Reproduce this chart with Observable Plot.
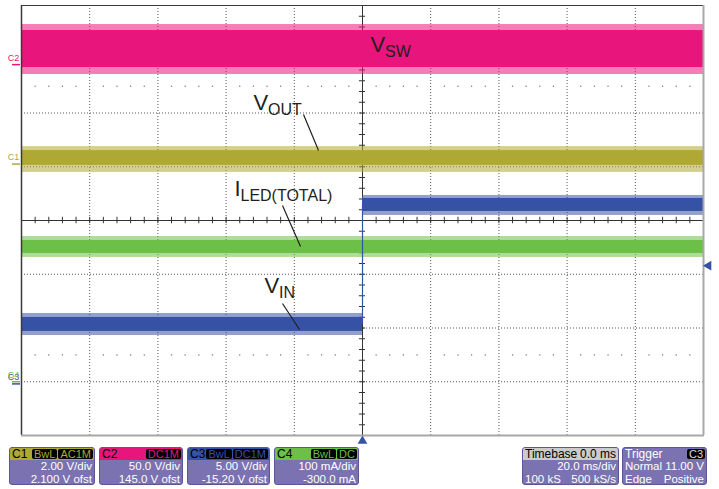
<!DOCTYPE html>
<html><head><meta charset="utf-8">
<script src="https://cdn.jsdelivr.net/npm/d3@7"></script>
<script src="https://cdn.jsdelivr.net/npm/@observablehq/plot@0.6"></script>
<style>
html,body{margin:0;padding:0;background:#fff;}
body{width:719px;height:489px;position:relative;overflow:hidden;font-family:"Liberation Sans",Arial,sans-serif;}
#chart{position:absolute;left:0;top:0;}
.panel{position:absolute;top:447px;height:38px;box-sizing:border-box;border:1px solid #5d5596;border-radius:3px;background:#7b72b2;overflow:hidden;color:#fff;}
.hdr{position:relative;height:12px;font-size:12px;line-height:12px;color:#000;}
.hdr .l{position:absolute;left:2px;top:0;}
.hdr .r{position:absolute;right:1px;top:1px;display:flex;gap:1px;}
.hdr .rt{position:absolute;right:2px;top:0;}
.badge{background:#000;border-radius:2px;font-size:11px;line-height:10px;height:10px;padding:0 2px;}
.row{position:relative;height:12.5px;font-size:11.5px;line-height:12.5px;}
.row .l{position:absolute;left:2px;top:0;}
.row .r{position:absolute;right:2px;top:0;}
</style>
</head>
<body>
<div id="chart"></div>
<div id="panels"></div>
<script>
// ---- Acquisition settings ----
const timeRange = [-100, 100];          // ms, 20 ms/div x 10 div, trigger at 0
const divRange = [-4, 4];               // vertical divisions
const msPerDiv = 20;

// ---- Channels ----
const channels = ["C1", "C2", "C3", "C4"];
const chColors = ["#b0a834", "#e8157c", "#3652a4", "#6cbf47"];
const unitsPerDiv = [2, 50, 5, 100];
const offsets = [2.1, 145, -15.2, -300];
const perDivText = ["2.00 V/div", "50.0 V/div", "5.00 V/div", "100 mA/div"];
const offsetText = ["2.100 V ofst", "145.0 V ofst", "-15.20 V ofst", "-300.0 mA"];
const badgeText = [["BwL", "AC1M"], ["DC1M"], ["BwL", "DC1M"], ["BwL", "DC"]];

// ---- Traces (segments, in channel units) ----
const traceName = ["VSW", "VOUT", "ILED", "VIN", "VIN"];
const traceChannel = [1, 0, 3, 2, 2];
const segStart = [-100, -100, -100, -100, 0];
const segEnd = [100, 100, 100, 0, 100];
const coreLow = [-2.7, -0.05, 238.6, 4.88, 16.04];
const coreHigh = [31.7, 0.5, 262.8, 6.18, 17.25];
const peakLow = [-9.2, -0.31, 231.2, 4.5, 15.67];
const peakHigh = [37.3, 0.65, 270.2, 6.55, 17.53];

// ---- Trigger ----
const triggerChannel = 2;
const triggerLevel = 11.0;
const triggerTime = 0;

// ---- Annotations (time ms, divisions) ----
const labelMain = ["V", "V", "I", "V"];
const labelSub = ["SW", "OUT", "LED(TOTAL)", "IN"];
const labelT = [2.35, -31.97, -37.54, -28.74];
const labelDiv = [3.144, 2.047, 0.465, -1.358];
const leaderT1 = [-17.3, -23.46, -23.46];
const leaderD1 = [1.972, 0.279, -1.544];
const leaderT2 = [-12.9, -18.18, -18.48];
const leaderD2 = [1.302, -0.484, -2.028];

// ---- Status panels ----
const timebaseText = ["Timebase", "0.0 ms", "20.0 ms/div", "100 kS", "500 kS/s"];
const triggerText = ["Trigger", "C3", "Normal", "11.00 V", "Edge", "Positive"];

// ---------------------------------------------------------------
const toDiv = (ch, v) => (v + offsets[ch]) / unitsPerDiv[ch];
const traces = traceName.map((n, i) => {
  const ch = traceChannel[i];
  return {
    name: n, color: chColors[ch], t0: segStart[i], t1: segEnd[i],
    lo: toDiv(ch, coreLow[i]), hi: toDiv(ch, coreHigh[i]),
    plo: toDiv(ch, peakLow[i]), phi: toDiv(ch, peakHigh[i])
  };
});
const vinA = traces[3], vinB = traces[4];
const stepLine = [{t: triggerTime, y1: (vinA.lo + vinA.hi) / 2, y2: (vinB.lo + vinB.hi) / 2}];

const hGrid = d3.range(-3, 4).filter(d => d !== 0);
const vGrid = d3.range(-80, 100, 20).filter(d => d !== 0);
const minorT = d3.range(-100, 100.001, msPerDiv / 5);
const minorD = d3.range(-4, 4.001, 0.2);
const dotRows = [];
for (const y of [2.5, -2.5]) for (const t of minorT) if (Math.abs(t % 20) > 1e-6 && Math.abs(t) < 100) dotRows.push({t, y});

const pxMs = msPerDiv / 68.2;
const markers = [2, 3, 1, 0].map(ch => ({ch: channels[ch], color: chColors[ch], g: toDiv(ch, 0)}));

const labels = labelMain.map((m, i) => ({main: m, sub: labelSub[i], t: labelT[i], y: labelDiv[i], dx: m === "I" ? 6 : 14.5}));
const leaders = leaderT1.map((t, i) => ({t1: t, y1: leaderD1[i], t2: leaderT2[i], y2: leaderD2[i]}));
const font = "Liberation Sans, Arial, sans-serif";

const chart = Plot.plot({
  width: 719, height: 445,
  marginLeft: 21, marginRight: 16, marginTop: 5, marginBottom: 10,
  x: {domain: timeRange, axis: null},
  y: {domain: divRange, axis: null},
  color: {type: "identity"},
  style: {background: "transparent", overflow: "visible"},
  marks: [
    Plot.ruleY(hGrid, {y: d => d, x1: timeRange[0], x2: timeRange[1], stroke: "#555", strokeDasharray: "1,2"}),
    Plot.ruleX(vGrid, {x: d => d, y1: divRange[0], y2: divRange[1], stroke: "#555", strokeDasharray: "1,2"}),
    Plot.dot(dotRows, {x: "t", y: "y", r: 0.7, fill: "#666", stroke: null}),
    Plot.ruleY([0], {x1: timeRange[0], x2: timeRange[1], stroke: "#333"}),
    Plot.ruleX([0], {y1: divRange[0], y2: divRange[1], stroke: "#333"}),
    Plot.ruleX(minorT, {x: d => d, y1: -0.06, y2: 0.06, stroke: "#333"}),
    Plot.ruleY(minorD, {y: d => d, x1: -0.9, x2: 0.9, stroke: "#333"}),
    Plot.rect(traces, {x1: "t0", x2: "t1", y1: "plo", y2: "phi", fill: "color", fillOpacity: 0.55}),
    Plot.rect(traces, {x1: "t0", x2: "t1", y1: "lo", y2: "hi", fill: "color"}),
    Plot.ruleX(stepLine, {x: "t", y1: "y1", y2: "y2", stroke: chColors[triggerChannel], strokeWidth: 1.2}),
    // frame
    Plot.ruleX([timeRange[0]], {y1: divRange[0], y2: divRange[1], stroke: "#3a3a3a", strokeWidth: 1.5}),
    Plot.ruleY([divRange[1]], {x1: timeRange[0], x2: timeRange[1], stroke: "#3a3a3a", strokeWidth: 1.2}),
    Plot.ruleX([timeRange[1]], {y1: divRange[0], y2: divRange[1], stroke: "#a8a8a8", strokeWidth: 2}),
    Plot.ruleY([divRange[0]], {x1: timeRange[0], x2: timeRange[1] + 0.3, stroke: "#a8a8a8", strokeWidth: 2}),
    // annotations
    Plot.link(leaders, {x1: "t1", y1: "y1", x2: "t2", y2: "y2", stroke: "#231f20", strokeWidth: 1.2}),
    Plot.text(labels, {x: "t", y: "y", text: "main", textAnchor: "start", lineAnchor: "bottom", fontSize: 22, fill: "#231f20", fontFamily: font}),
    Plot.text(labels, {x: "t", y: "y", text: "sub", textAnchor: "start", lineAnchor: "bottom", fontSize: 16, fill: "#231f20", fontFamily: font}),
    // channel ground markers
    Plot.ruleY(markers, {y: "g", x1: timeRange[0] - 9 * pxMs, x2: timeRange[0] - 1 * pxMs, stroke: "color", strokeWidth: 1.5}),
    Plot.text(markers, {x: timeRange[0] - 8 * pxMs, y: "g", text: "ch", dy: -7, fontSize: 9, fill: "color", fontFamily: font}),
    // trigger markers
    Plot.dot([triggerLevel], {x: timeRange[1], y: d => toDiv(triggerChannel, d), dx: 5, symbol: "triangle", r: 3.6, rotate: -90, fill: chColors[triggerChannel], stroke: null}),
    Plot.dot([triggerTime], {x: d => d, y: divRange[0], dy: 5.5, symbol: "triangle", r: 3.6, fill: chColors[triggerChannel], stroke: null})
  ]
});
document.getElementById("chart").appendChild(chart);
// shift subscripts right of the main glyph and slightly down
const groups = chart.querySelectorAll('g[aria-label="text"]');
if (groups.length >= 2) {
  const subs = groups[1].querySelectorAll("text");
  subs.forEach((el, i) => {
    const tr = el.getAttribute("transform") || "";
    el.setAttribute("transform", tr + ` translate(${labels[i].dx},5)`);
  });
}

// ---- status panels (HTML) ----
const panelsEl = document.getElementById("panels");
const chLeft = [9, 99, 187, 274], chWidth = [86, 84, 83, 85];
function el(tag, cls, txt) { const e = document.createElement(tag); if (cls) e.className = cls; if (txt != null) e.textContent = txt; return e; }
channels.forEach((c, i) => {
  const p = el("div", "panel"); p.style.left = chLeft[i] + "px"; p.style.width = chWidth[i] + "px";
  const h = el("div", "hdr"); h.style.background = chColors[i];
  h.appendChild(el("span", "l", c));
  const r = el("span", "r");
  badgeText[i].forEach(b => { const s = el("span", "badge", b); s.style.color = chColors[i]; r.appendChild(s); });
  h.appendChild(r); p.appendChild(h);
  const r1 = el("div", "row"); r1.appendChild(el("span", "r", perDivText[i])); p.appendChild(r1);
  const r2 = el("div", "row"); r2.appendChild(el("span", "r", offsetText[i])); p.appendChild(r2);
  panelsEl.appendChild(p);
});
{
  const p = el("div", "panel"); p.style.left = "522px"; p.style.width = "97px";
  const h = el("div", "hdr"); h.style.background = "#cbcbcb";
  h.appendChild(el("span", "l", timebaseText[0])); h.appendChild(el("span", "rt", timebaseText[1])); p.appendChild(h);
  const r1 = el("div", "row"); r1.appendChild(el("span", "r", timebaseText[2])); p.appendChild(r1);
  const r2 = el("div", "row"); r2.appendChild(el("span", "l", timebaseText[3])); r2.appendChild(el("span", "r", timebaseText[4])); p.appendChild(r2);
  panelsEl.appendChild(p);
}
{
  const p = el("div", "panel"); p.style.left = "622px"; p.style.width = "85px";
  const h = el("div", "hdr"); h.style.color = "#fff";
  h.appendChild(el("span", "l", triggerText[0]));
  const r = el("span", "r"); const b = el("span", "badge", triggerText[1]); b.style.color = "#ddd"; r.appendChild(b); h.appendChild(r); p.appendChild(h);
  const r1 = el("div", "row"); r1.appendChild(el("span", "l", triggerText[2])); r1.appendChild(el("span", "r", triggerText[3])); p.appendChild(r1);
  const r2 = el("div", "row"); r2.appendChild(el("span", "l", triggerText[4])); r2.appendChild(el("span", "r", triggerText[5])); p.appendChild(r2);
  panelsEl.appendChild(p);
}
</script>
</body></html>
